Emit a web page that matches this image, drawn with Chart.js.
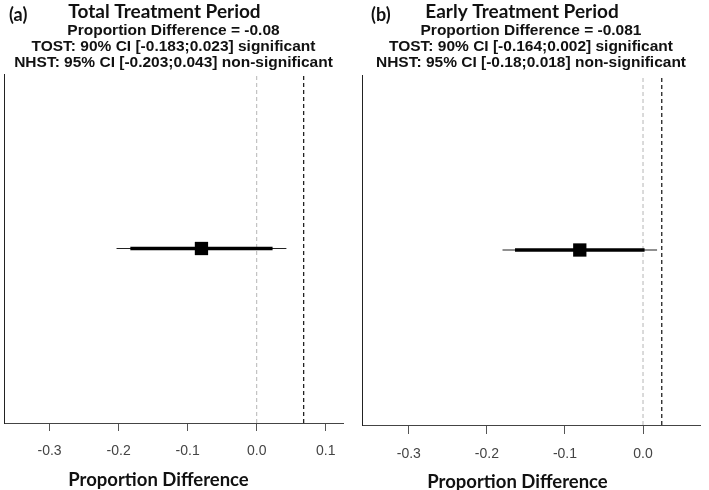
<!DOCTYPE html>
<html>
<head>
<meta charset="utf-8">
<script src="https://cdn.jsdelivr.net/npm/chart.js@4.4.1/dist/chart.umd.min.js"></script>
<style>
  body { margin: 0; background: #fff; }
  .panel { position: absolute; top: 0; height: 490px; }
</style>
</head>
<body>
<div class="panel" style="left:0;width:347px"><canvas id="chartA" width="347" height="490"></canvas></div>
<div class="panel" style="left:355px;width:354px"><canvas id="chartB" width="354" height="490"></canvas></div>
<script>
// values
const panelLabels = ['(a)', '(b)'];
const periodTitles = ['Total Treatment Period', 'Early Treatment Period'];
const estimates = [-0.08, -0.081];
const tostLow = [-0.183, -0.164];
const tostHigh = [0.023, 0.002];
const nhstLow = [-0.203, -0.18];
const nhstHigh = [0.043, 0.018];
const boundLines = [0.068, 0.024];
const xTickValues = [[-0.3, -0.2, -0.1, 0.0, 0.1], [-0.3, -0.2, -0.1, 0.0]];
const xMin = [-0.366, -0.36];
const xMax = [0.125, 0.073];
const axisTitle = 'Proportion Difference';

Chart.defaults.font.family = '"Liberation Sans", Arial, sans-serif';

// panel letter, heading and axis title (these sit off-centre in the original)
const panelText = {
    id: 'panelText',
    afterDraw(chart, args, opts) {
        const { ctx, chartArea } = chart;
        const cx = (chartArea.left + chartArea.right) / 2;
        ctx.save();
        ctx.fillStyle = '#111';
        ctx.font = 'bold 18px Lato, "Open Sans", sans-serif';
        ctx.textBaseline = 'alphabetic';
        ctx.textAlign = 'left';
        ctx.fillText(opts.label, opts.labelX, 21);
        ctx.textAlign = 'center';
        ctx.font = 'bold 19px Lato, "Open Sans", sans-serif';
        ctx.fillText(opts.heading, cx + opts.headingShift, 18);
        ctx.font = 'bold 18.5px Lato, "Open Sans", sans-serif';
        ctx.textBaseline = 'middle';
        ctx.fillText(axisTitle, cx + opts.titleShift, chartArea.bottom + opts.titleGap);
        ctx.restore();
    }
};

function makePanel(id, i, layout) {
    const ctx = document.getElementById(id).getContext('2d');
    const est = estimates[i];
    return new Chart(ctx, {
        type: 'scatter',
        data: {
            datasets: [
                {
                    // point estimate
                    data: [{ x: est, y: 0 }],
                    pointStyle: 'rect',
                    pointRadius: 9.4,
                    backgroundColor: '#000',
                    borderWidth: 0
                },
                {
                    // 90% CI (TOST)
                    data: [{ x: tostLow[i], y: 0 }, { x: tostHigh[i], y: 0 }],
                    showLine: true,
                    borderColor: '#000',
                    borderWidth: 3.5,
                    pointRadius: 0
                },
                {
                    // 95% CI (NHST)
                    data: [{ x: nhstLow[i], y: 0 }, { x: nhstHigh[i], y: 0 }],
                    showLine: true,
                    borderColor: '#222',
                    borderWidth: 1.2,
                    pointRadius: 0
                },
                {
                    // equivalence bound
                    data: [{ x: boundLines[i], y: -1 }, { x: boundLines[i], y: 1 }],
                    showLine: true,
                    borderColor: '#222',
                    borderWidth: 1.3,
                    borderDash: [4, 3],
                    pointRadius: 0
                },
                {
                    // zero line
                    data: [{ x: 0, y: -1 }, { x: 0, y: 1 }],
                    showLine: true,
                    borderColor: '#b5b5b5',
                    borderWidth: 1,
                    borderDash: [4, 3],
                    pointRadius: 0
                }
            ]
        },
        options: {
            responsive: false,
            animation: false,
            layout: { padding: layout.padding, autoPadding: false },
            plugins: {
                legend: { display: false },
                tooltip: { enabled: false },
                title: {
                    display: true,
                    text: [
                        'Proportion Difference = ' + est,
                        'TOST: 90% CI [' + tostLow[i] + ';' + tostHigh[i] + '] significant',
                        'NHST: 95% CI [' + nhstLow[i] + ';' + nhstHigh[i] + '] non-significant'
                    ],
                    color: '#111',
                    font: { size: 15.5, weight: 'bold', lineHeight: 16 / 15.5 },
                    padding: { top: 23, bottom: layout.titleBottom }
                },
                panelText: {
                    label: panelLabels[i],
                    labelX: layout.labelX,
                    heading: periodTitles[i],
                    headingShift: -9,
                    titleShift: layout.titleShift,
                    titleGap: layout.titleGap
                }
            },
            scales: {
                x: {
                    type: 'linear',
                    min: xMin[i],
                    max: xMax[i],
                    afterBuildTicks: (scale) => {
                        scale.ticks = xTickValues[i].map(v => ({ value: v }));
                    },
                    afterFit: (scale) => {
                        scale.height = layout.tickLength + 12 + 17;
                        scale.paddingLeft = 0;
                        scale.paddingRight = 0;
                    },
                    ticks: {
                        color: '#444',
                        font: { size: 14 },
                        padding: 12,
                        maxRotation: 0,
                        callback: (v) => Number(v).toFixed(1)
                    },
                    grid: {
                        display: true,
                        drawOnChartArea: false,
                        color: '#555',
                        tickLength: layout.tickLength
                    },
                    border: { display: true, color: '#444', width: 1 }
                },
                y: {
                    min: -1,
                    max: 1,
                    afterFit: (scale) => {
                        scale.width = 0;
                    },
                    ticks: { display: false },
                    grid: { display: false },
                    border: { display: true, color: '#222', width: 1 }
                }
            }
        },
        plugins: [panelText]
    });
}

makePanel('chartA', 0, {
    padding: { left: 4, right: 4, top: 0, bottom: 30 },
    titleBottom: 3,
    tickLength: 8,
    labelX: 9,
    titleShift: -15,
    titleGap: 57
});
makePanel('chartB', 1, {
    padding: { left: 7, right: 9, top: 0, bottom: 27 },
    titleBottom: 4,
    tickLength: 9,
    labelX: 16,
    titleShift: -13.5,
    titleGap: 57
});
</script>
</body>
</html>
